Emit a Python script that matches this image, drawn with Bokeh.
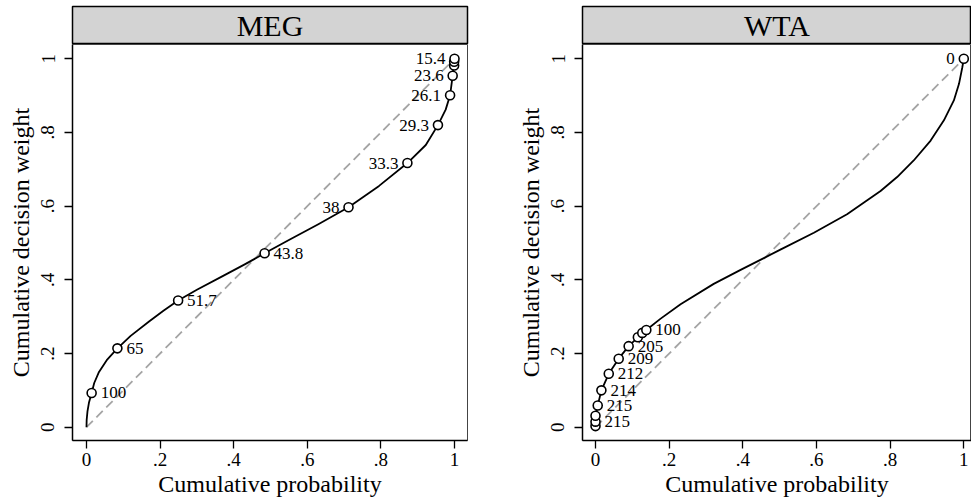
from bokeh.plotting import figure
from bokeh.layouts import row, column
from bokeh.models import FixedTicker, ColumnDataSource, Range1d
from bokeh.core.properties import value
from bokeh.embed import file_html
from bokeh.resources import INLINE

FONT = "Liberation Serif"
AXFONT = "'Liberation Serif', serif"

# ---------------- data ----------------
panels = ["MEG", "WTA"]
tick_vals = [0, 0.2, 0.4, 0.6, 0.8, 1]
tick_labels = ["0", ".2", ".4", ".6", ".8", "1"]
diag = [0, 1]

# MEG: observed points (cumulative probability, cumulative decision weight, label)
meg_p = [0.014, 0.084, 0.249, 0.484, 0.712, 0.872, 0.955, 0.988, 0.995, 0.999, 0.999, 1.0]
meg_w = [0.093, 0.214, 0.344, 0.472, 0.597, 0.717, 0.820, 0.901, 0.954, 0.982, 0.992, 1.0]
meg_lab = ["100", "65", "51.7", "43.8", "38", "33.3", "29.3", "26.1", "23.6", "", "", "15.4"]
meg_lab_pos = [3, 3, 3, 3, 9, 9, 9, 9, 9, 9, 9, 9]
# MEG fitted curve
meg_curve_p = [0, 0.0005, 0.0027, 0.007, 0.014, 0.021, 0.034, 0.055, 0.084, 0.12, 0.17, 0.21,
               0.249, 0.30, 0.37, 0.43, 0.484, 0.55, 0.63, 0.712, 0.795, 0.872, 0.922,
               0.955, 0.976, 0.988, 0.995, 1.0]
meg_curve_w = [0, 0.020, 0.043, 0.068, 0.093, 0.120, 0.150, 0.182, 0.214, 0.248, 0.287, 0.317,
               0.344, 0.373, 0.410, 0.442, 0.472, 0.508, 0.551, 0.597, 0.655, 0.717, 0.766,
               0.820, 0.862, 0.901, 0.954, 1.0]

# WTA
wta_p = [0.0, 0.0, 0.0, 0.006, 0.016, 0.036, 0.063, 0.090, 0.115, 0.127, 0.138, 1.0]
wta_w = [0.003, 0.015, 0.031, 0.059, 0.100, 0.145, 0.186, 0.220, 0.244, 0.256, 0.264, 1.0]
wta_lab = ["", "215", "", "215", "214", "212", "209", "205", "", "", "100", "0"]
wta_lab_pos = [3, 3, 3, 3, 3, 3, 3, 3, 3, 3, 3, 9]
wta_curve_p = [0, 0.0, 0.006, 0.016, 0.036, 0.063, 0.090, 0.115, 0.138, 0.176, 0.231, 0.321,
               0.394, 0.453, 0.502, 0.593, 0.683, 0.774, 0.819, 0.864, 0.910, 0.946, 0.973,
               0.987, 0.996, 1.0]
wta_curve_w = [0, 0.030, 0.059, 0.100, 0.145, 0.186, 0.220, 0.244, 0.264, 0.294, 0.334, 0.389,
               0.427, 0.457, 0.482, 0.528, 0.578, 0.641, 0.679, 0.724, 0.778, 0.833, 0.887,
               0.932, 0.977, 1.0]


def make_panel(name, pp, ww, labs, lpos, cp, cw, width, border_right, x0, x1):
    strip = figure(width=width, height=44, x_range=Range1d(0, 1), y_range=Range1d(0, 1),
                   toolbar_location=None, output_backend="svg",
                   min_border_left=72, min_border_right=border_right,
                   min_border_top=6, min_border_bottom=0,
                   x_axis_location=None, y_axis_location=None,
                   background_fill_color="#d3d3d3", border_fill_color="white",
                   outline_line_color="black", outline_line_width=1.5)
    strip.xgrid.visible = False
    strip.ygrid.visible = False
    strip.text(x=[0.5], y=[0.5], text=[name], text_align="center", text_baseline="middle",
               text_font=value(FONT), text_font_size="30px", text_color="black")

    p = figure(width=width, height=458, x_range=Range1d(x0, x1),
               y_range=Range1d(-0.0361, 1.0388),
               toolbar_location=None, output_backend="svg",
               min_border_left=72, min_border_right=border_right,
               min_border_top=0, min_border_bottom=62,
               background_fill_color="white", border_fill_color="white",
               outline_line_color="#444444", outline_line_width=1)
    p.xgrid.visible = False
    p.ygrid.visible = False

    for ax in (p.xaxis[0], p.yaxis[0]):
        ax.ticker = FixedTicker(ticks=tick_vals)
        ax.major_label_overrides = dict(zip(tick_vals, tick_labels))
        ax.minor_tick_line_color = None
        ax.major_tick_in = 0
        ax.major_tick_out = 8
        ax.major_tick_line_width = 1.3
        ax.axis_line_width = 1.5
        ax.axis_line_color = "black"
        ax.major_label_text_font = AXFONT
        ax.major_label_text_font_size = "19px"
        ax.major_label_text_color = "black"
        ax.axis_label_text_font = AXFONT
        ax.axis_label_text_font_size = "24px"
        ax.axis_label_text_font_style = "normal"
        ax.axis_label_text_color = "black"
    p.xaxis.axis_label = "Cumulative probability"
    p.yaxis.axis_label = "Cumulative decision weight"
    p.xaxis.major_label_standoff = 4
    p.xaxis.axis_label_standoff = 2
    p.yaxis.major_label_orientation = "vertical"
    p.yaxis.major_label_standoff = 10
    p.yaxis.axis_label_standoff = 5

    p.line(x=diag, y=diag, line_color="#a4a4a4", line_width=1.8, line_dash="9 5")
    p.line(x=cp, y=cw, line_color="black", line_width=1.8, line_join="round")
    p.scatter(x=pp, y=ww, size=9, marker="circle", fill_color="white",
              line_color="black", line_width=1.6)

    r_idx = [i for i, s in enumerate(lpos) if s == 3]
    l_idx = [i for i, s in enumerate(lpos) if s == 9]
    src_r = ColumnDataSource(dict(x=[pp[i] for i in r_idx], y=[ww[i] for i in r_idx],
                                  t=[labs[i] for i in r_idx]))
    src_l = ColumnDataSource(dict(x=[pp[i] for i in l_idx], y=[ww[i] for i in l_idx],
                                  t=[labs[i] for i in l_idx]))
    p.text(x="x", y="y", text="t", source=src_r, x_offset=9, text_align="left",
           text_baseline="middle", text_font=value(FONT), text_font_size="17px",
           text_color="black")
    p.text(x="x", y="y", text="t", source=src_l, x_offset=-9, text_align="right",
           text_baseline="middle", text_font=value(FONT), text_font_size="17px",
           text_color="black")
    return column(strip, p, spacing=0)


left = make_panel(panels[0], meg_p, meg_w, meg_lab, meg_lab_pos, meg_curve_p, meg_curve_w,
                  510, 43, -0.038, 1.0353)
right = make_panel(panels[1], wta_p, wta_w, wta_lab, wta_lab_pos, wta_curve_p, wta_curve_w,
                   461, 0, -0.0353, 1.0209)
layout = row(left, right, spacing=0)

open("out.html", "w").write(file_html(layout, INLINE))
